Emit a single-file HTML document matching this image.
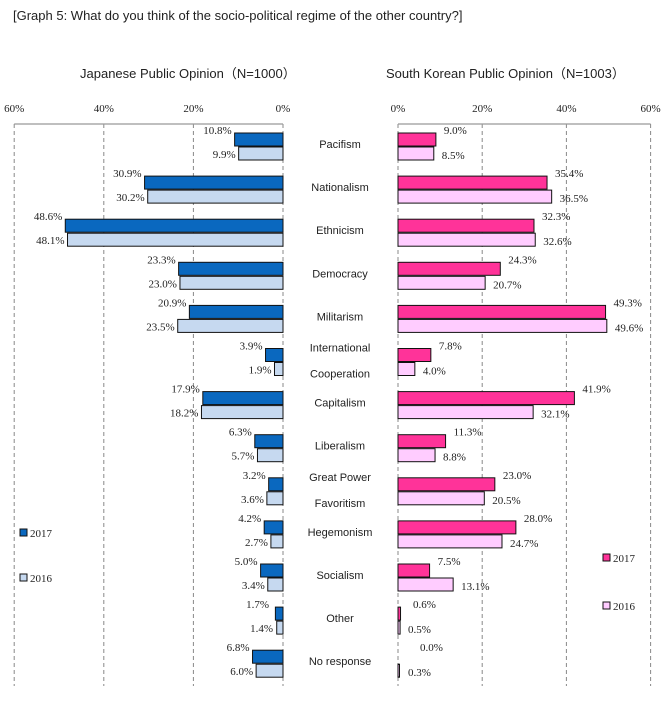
<!DOCTYPE html>
<html><head><meta charset="utf-8">
<style>
body{margin:0;background:#fff;}
svg{display:block;}
.s{font-family:"Liberation Sans",sans-serif;}
.n{font-family:"Liberation Serif",serif;font-size:11px;fill:#222;}
</style></head><body>
<svg id="c" width="670" height="706" xmlns="http://www.w3.org/2000/svg">
<text class="s" x="13" y="20" font-size="13" fill="#222">[Graph 5: What do you think of the socio-political regime of the other country?]</text>
<text class="s" x="80" y="78" font-size="13" fill="#222">Japanese Public Opinion（N=1000）</text>
<text class="s" x="386" y="78" font-size="13" fill="#222">South Korean Public Opinion（N=1003）</text>
</svg>
<script>
const svg=document.getElementById('c');const NS='http://www.w3.org/2000/svg';
function el(t,a,txt){const e=document.createElementNS(NS,t);for(const k in a)e.setAttribute(k,a[k]);if(txt!==undefined)e.textContent=txt;svg.appendChild(e);return e;}
const L0=283,LS=4.48,R0=398,RS=4.21,TOP=133,P=43.1;
[0,20,40,60].forEach(v=>{
 const xl=L0-v*LS, xr=R0+v*RS;
 el('line',{x1:xl,y1:124,x2:xl,y2:686,stroke:'#888','stroke-dasharray':'4,3','stroke-width':1});
 el('line',{x1:xr,y1:124,x2:xr,y2:686,stroke:'#888','stroke-dasharray':'4,3','stroke-width':1});
 el('text',{class:'n',x:xl,y:112,'text-anchor':'middle','font-size':12},v+'%');
 el('text',{class:'n',x:xr,y:112,'text-anchor':'middle','font-size':12},v+'%');
});
el('line',{x1:L0-60*LS,y1:124,x2:L0,y2:124,stroke:'#999','stroke-width':1.2});
el('line',{x1:R0,y1:124,x2:R0+60*RS,y2:124,stroke:'#999','stroke-width':1.2});
const cats=[["Pacifism"],["Nationalism"],["Ethnicism"],["Democracy"],["Militarism"],["International","Cooperation"],["Capitalism"],["Liberalism"],["Great Power","Favoritism"],["Hegemonism"],["Socialism"],["Other"],["No response"]];
const J=[[10.8,9.9],[30.9,30.2],[48.6,48.1],[23.3,23.0],[20.9,23.5],[3.9,1.9],[17.9,18.2],[6.3,5.7],[3.2,3.6],[4.2,2.7],[5.0,3.4],[1.7,1.4],[6.8,6.0]];
const K=[[9.0,8.5],[35.4,36.5],[32.3,32.6],[24.3,20.7],[49.3,49.6],[7.8,4.0],[41.9,32.1],[11.3,8.8],[23.0,20.5],[28.0,24.7],[7.5,13.1],[0.6,0.5],[0.0,0.3]];
const f=v=>v.toFixed(1)+'%';
cats.forEach((c,i)=>{
 const y=TOP+i*P;
 const [a,b]=J[i];
 el('rect',{x:L0-a*LS,y:y,width:a*LS,height:13,fill:'#0a68bf',stroke:'#111','stroke-width':1});
 el('rect',{x:L0-b*LS,y:y+14,width:b*LS,height:13,fill:'#c6d9f0',stroke:'#111','stroke-width':1});
 el('text',{class:'n',x:Math.min(L0-a*LS-3,L0-14),y:y+1,'text-anchor':'end'},f(a));
 el('text',{class:'n',x:Math.min(L0-b*LS-3,L0-10),y:y+25,'text-anchor':'end'},f(b));
 const [p,q]=K[i];
 if(p>0)el('rect',{x:R0,y:y,width:Math.max(p*RS,1.5),height:13,fill:'#ff3399',stroke:'#111','stroke-width':1});
 el('rect',{x:R0,y:y+14,width:Math.max(q*RS,1.5),height:13,fill:'#ffccff',stroke:'#111','stroke-width':1});
 let tx=R0+p*RS+8, bx=R0+q*RS+8;
 if(i==11){tx=413;bx=408;} if(i==12){tx=420;bx=408;}
 el('text',{class:'n',x:tx,y:y+1},f(p));
 el('text',{class:'n',x:bx,y:y+26},f(q));
 if(c.length==1) el('text',{class:'s',x:340,y:y+15,'text-anchor':'middle','font-size':11,fill:'#222'},c[0]);
 else{el('text',{class:'s',x:340,y:y+3,'text-anchor':'middle','font-size':11,fill:'#222'},c[0]);
      el('text',{class:'s',x:340,y:y+29,'text-anchor':'middle','font-size':11,fill:'#222'},c[1]);}
});
el('rect',{x:20,y:529,width:7,height:7,fill:'#0a68bf',stroke:'#111'});
el('text',{class:'n',x:30,y:537,'font-size':12},'2017');
el('rect',{x:20,y:574,width:7,height:7,fill:'#c6d9f0',stroke:'#111'});
el('text',{class:'n',x:30,y:582,'font-size':12},'2016');
el('rect',{x:603,y:554,width:7,height:7,fill:'#ff3399',stroke:'#111'});
el('text',{class:'n',x:613,y:562,'font-size':12},'2017');
el('rect',{x:603,y:602,width:7,height:7,fill:'#ffccff',stroke:'#111'});
el('text',{class:'n',x:613,y:610,'font-size':12},'2016');
</script>
</body></html>
